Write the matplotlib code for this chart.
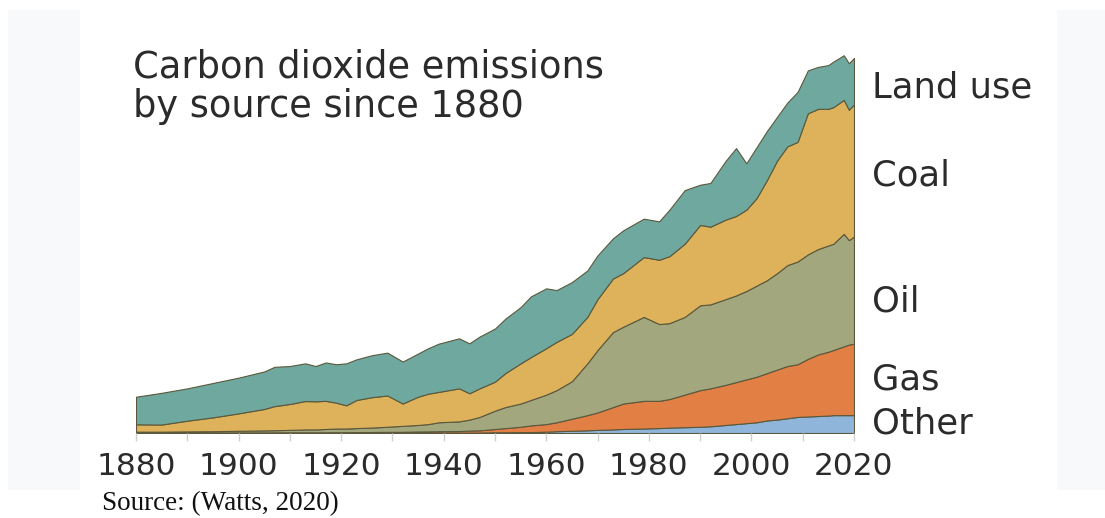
import matplotlib
matplotlib.use("Agg")
import matplotlib.pyplot as plt
from matplotlib.patches import Rectangle

# ---- data (GtCO2-like units) ----
years = [1880, 1885, 1890, 1895, 1900, 1905, 1907, 1910, 1913, 1915, 1917, 1919,
         1921, 1923, 1926, 1929, 1932, 1935, 1937, 1939, 1943, 1945, 1947, 1950,
         1952, 1955, 1957, 1960, 1962, 1965, 1968, 1970, 1973, 1975, 1979, 1982,
         1984, 1987, 1990, 1992, 1995, 1997, 1999, 2001, 2003, 2005, 2007, 2009,
         2011, 2013, 2015, 2016, 2018, 2019, 2020]

other = [0.05, 0.05, 0.05, 0.05, 0.05, 0.05, 0.05, 0.05, 0.05, 0.05, 0.05, 0.05,
         0.05, 0.05, 0.05, 0.05, 0.05, 0.05, 0.05, 0.05, 0.05, 0.05, 0.05, 0.08,
         0.08, 0.10, 0.10, 0.15, 0.20, 0.25, 0.30, 0.35, 0.40, 0.45, 0.50, 0.55,
         0.60, 0.65, 0.70, 0.75, 0.90, 1.00, 1.10, 1.20, 1.40, 1.50, 1.65, 1.80,
         1.85, 1.90, 1.95, 2.00, 2.00, 2.00, 2.00]

gas = [0.00, 0.00, 0.01, 0.01, 0.02, 0.02, 0.02, 0.03, 0.03, 0.03, 0.03, 0.04,
       0.04, 0.05, 0.06, 0.08, 0.08, 0.12, 0.13, 0.15, 0.17, 0.22, 0.25, 0.37,
       0.47, 0.60, 0.75, 0.85, 1.00, 1.35, 1.70, 1.95, 2.50, 2.85, 3.10, 3.05,
       3.20, 3.65, 4.10, 4.25, 4.50, 4.70, 4.90, 5.10, 5.30, 5.60, 5.85, 5.90,
       6.45, 6.90, 7.15, 7.30, 7.70, 7.90, 8.00]

oil = [0.10, 0.10, 0.12, 0.14, 0.18, 0.22, 0.24, 0.27, 0.32, 0.32, 0.37, 0.41,
       0.41, 0.45, 0.50, 0.57, 0.67, 0.73, 0.82, 1.00, 1.08, 1.23, 1.50, 2.05,
       2.35, 2.60, 2.85, 3.30, 3.60, 4.20, 5.80, 7.00, 8.40, 8.60, 9.40, 8.60,
       8.50, 8.70, 9.50, 9.40, 9.60, 9.70, 9.90, 10.20, 10.40, 10.80, 11.30, 11.50,
       11.70, 11.80, 11.90, 11.90, 12.60, 11.70, 12.00]

coal = [0.82, 0.80, 1.20, 1.55, 1.95, 2.40, 2.70, 2.90, 3.18, 3.15, 3.15, 2.90,
        2.60, 3.15, 3.40, 3.50, 2.50, 3.17, 3.40, 3.40, 3.70, 2.95, 3.20, 3.25,
        3.80, 4.50, 4.80, 5.20, 5.40, 5.30, 5.20, 5.70, 6.00, 6.00, 6.70, 7.20,
        7.50, 8.20, 9.00, 8.70, 8.90, 8.90, 9.10, 9.80, 11.20, 12.60, 13.30, 13.40,
        15.80, 15.70, 15.30, 15.30, 15.00, 14.60, 14.80]

land_use = [3.09, 3.55, 3.62, 3.85, 4.00, 4.20, 4.40, 4.25, 4.22, 3.95, 4.30, 4.30,
            4.70, 4.55, 4.70, 4.80, 4.70, 4.83, 5.10, 5.40, 5.60, 5.59, 5.80, 5.95,
            6.10, 6.30, 6.80, 6.70, 5.80, 5.80, 5.20, 4.90, 4.50, 4.80, 4.30, 4.30,
            5.20, 6.00, 4.50, 4.90, 6.60, 7.60, 5.20, 5.70, 5.50, 4.90, 4.90, 5.60,
            4.80, 4.70, 4.90, 5.10, 5.00, 5.20, 5.20]

series_names = ["Other", "Gas", "Oil", "Coal", "Land use"]
series_colors = ["#8fb6da", "#e17f45", "#a3a77e", "#deb25a", "#6fa89e"]
label_baseline = [433, 389, 312, 185, 97]  # pixel rows of the right-hand label baselines

major_ticks = [1880, 1900, 1920, 1940, 1960, 1980, 2000, 2020]
minor_ticks = [1890, 1910, 1930, 1950, 1970, 1990, 2010]
title_lines = ["Carbon dioxide emissions", "by source since 1880"]
source_text = "Source: (Watts, 2020)"

# ---- figure ----
W, H = 1105, 518
fig = plt.figure(figsize=(W / 100, H / 100), dpi=100)
fig.patch.set_facecolor("white")

# faint side panels
fig.patches.append(Rectangle((8 / W, 1 - 490 / H), 72 / W, 480 / H,
                             transform=fig.transFigure, facecolor="#f8f9fa",
                             edgecolor="none", zorder=0))
fig.patches.append(Rectangle((1057 / W, 1 - 490 / H), 48 / W, 480 / H,
                             transform=fig.transFigure, facecolor="#f8f9fa",
                             edgecolor="none", zorder=0))

x0, x1 = 136, 854
ybase, ytop = 433, 40
ax = fig.add_axes([x0 / W, (H - ybase) / H, (x1 - x0) / W, (ybase - ytop) / H])
ax.set_facecolor("none")

ax.stackplot(years, other, gas, oil, coal, land_use,
             colors=series_colors, edgecolor="#5a583c", linewidth=0.8)

ax.set_xlim(1880, 2020)
ax.set_ylim(0, (ybase - ytop) / 8.93)

for s in ax.spines.values():
    s.set_visible(False)
ax.set_yticks([])
ax.set_xticks(major_ticks)
ax.set_xticklabels([str(t) for t in major_ticks])
ax.set_xticks(minor_ticks, minor=True)
ax.tick_params(axis="x", which="both", direction="out", length=6, width=1,
               color="#d0d0d0", pad=8, labelsize=22.5, labelcolor="#2b2b2b")

# title (two lines)
fig.text(133 / W, 1 - 77 / H, title_lines[0], ha="left", va="baseline",
         fontsize=26.5, color="#2b2b2b")
fig.text(133 / W, 1 - 117 / H, title_lines[1], ha="left", va="baseline",
         fontsize=26.5, color="#2b2b2b")

# right-hand labels
for name, yy in zip(series_names, label_baseline):
    fig.text(872 / W, 1 - yy / H, name, ha="left", va="baseline",
             fontsize=25.5, color="#2b2b2b")

fig.text(102 / W, 1 - 510 / H, source_text, ha="left", va="baseline",
         fontsize=19.5, family="Liberation Serif", color="#111111")

fig.savefig("out.png", dpi=100)
